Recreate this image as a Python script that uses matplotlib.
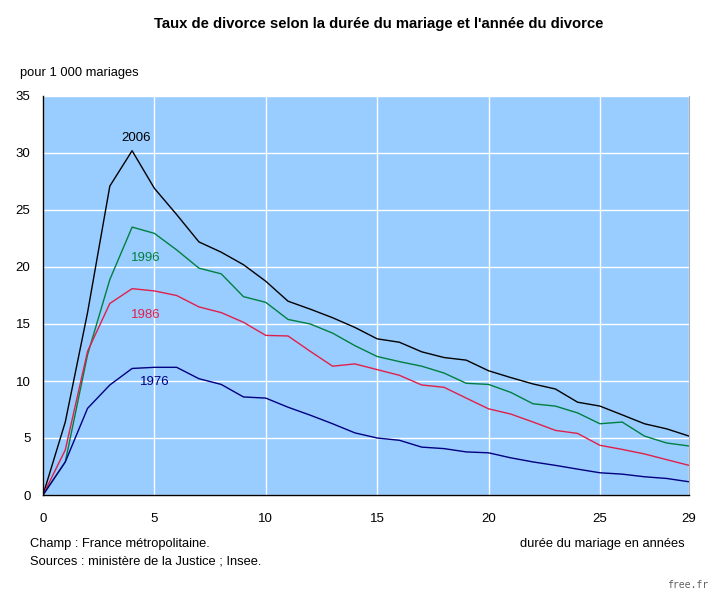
import numpy as np
import matplotlib
matplotlib.use("Agg")
import matplotlib.pyplot as plt
from matplotlib import font_manager

# durée du mariage (années)
duree = list(range(0, 30))

taux_2006 = [0, 6.4, 16.0, 27.1, 30.2, 26.9, 24.6, 22.2, 21.3, 20.2, 18.75, 17.0, 16.3, 15.55, 14.7,
             13.7, 13.4, 12.56, 12.06, 11.83, 10.9, 10.3, 9.74, 9.3, 8.14, 7.8, 7.03, 6.25, 5.8, 5.17]
taux_1996 = [0, 2.9, 12.3, 18.9, 23.5, 22.95, 21.5, 19.9, 19.4, 17.4, 16.9, 15.4, 15.0, 14.2, 13.1,
             12.15, 11.7, 11.3, 10.7, 9.8, 9.7, 9.0, 8.0, 7.8, 7.2, 6.25, 6.4, 5.17, 4.56, 4.3]
taux_1986 = [0, 3.95, 12.6, 16.8, 18.1, 17.9, 17.5, 16.5, 16.0, 15.15, 14.0, 13.95, 12.6, 11.3, 11.5,
             11.0, 10.5, 9.65, 9.45, 8.5, 7.56, 7.1, 6.4, 5.67, 5.4, 4.36, 4.0, 3.6, 3.1, 2.6]
taux_1976 = [0, 2.9, 7.6, 9.65, 11.1, 11.2, 11.2, 10.2, 9.7, 8.6, 8.5, 7.7, 7.0, 6.25, 5.45,
             5.0, 4.8, 4.2, 4.07, 3.78, 3.7, 3.26, 2.9, 2.6, 2.27, 1.95, 1.83, 1.6, 1.45, 1.16]

series = [("2006", taux_2006, "#000000", (4.2, 31.3)),
          ("1996", taux_1996, "#008040", (4.6, 20.8)),
          ("1986", taux_1986, "#E0204A", (4.6, 15.8)),
          ("1976", taux_1976, "#000080", (5.0, 9.9))]

xticks = [0, 5, 10, 15, 20, 25, 29]
yticks = [0, 5, 10, 15, 20, 25, 30, 35]

names = {f.name for f in font_manager.fontManager.ttflist}
narrow = "Liberation Sans Narrow" if "Liberation Sans Narrow" in names else "Liberation Sans"
plt.rcParams['font.family'] = [narrow, 'DejaVu Sans']

fig = plt.figure(figsize=(7.18, 6.0), dpi=100)
ax = fig.add_axes([43 / 718, 105 / 600, 646 / 718, 399 / 600])
ax.set_facecolor("#99CCFF")

for label, values, color, pos in series:
    ax.plot(duree, values, color=color, linewidth=1)
    ax.text(pos[0], pos[1], label, color=color, fontsize=9.5, ha="center", va="center")

ax.set_xlim(0, 29)
ax.set_ylim(0, 35)
ax.set_xticks(xticks)
ax.set_yticks(yticks)
ax.grid(True, color="white", linewidth=1)
ax.set_axisbelow(True)
ax.tick_params(length=0, labelsize=9.5, pad=9)
ax.tick_params(axis="x", pad=13)
ax.spines["top"].set_visible(False)
ax.spines["right"].set_color("#B0B0B0")
ax.spines["left"].set_linewidth(1)
ax.spines["bottom"].set_linewidth(1)

fig.text(379 / 718, 1 - 24 / 600, "Taux de divorce selon la durée du mariage et l'année du divorce",
         ha="center", va="center", fontsize=10.7, fontweight="bold", family="Liberation Sans")
fig.text(20 / 718, 1 - 73 / 600, "pour 1 000 mariages", ha="left", va="center", fontsize=9.3)
fig.text(30 / 718, 1 - 544 / 600, "Champ : France métropolitaine.", ha="left", va="center", fontsize=9.3)
fig.text(30 / 718, 1 - 562 / 600, "Sources : ministère de la Justice ; Insee.", ha="left", va="center", fontsize=9.3)
fig.text(685 / 718, 1 - 544 / 600, "durée du mariage en années", ha="right", va="center", fontsize=9.3)
fig.text(708 / 718, 1 - 585 / 600, "free.fr", ha="right", va="center", fontsize=7,
         color="#606060", family="DejaVu Sans Mono")

fig.savefig("out.png", dpi=100)
